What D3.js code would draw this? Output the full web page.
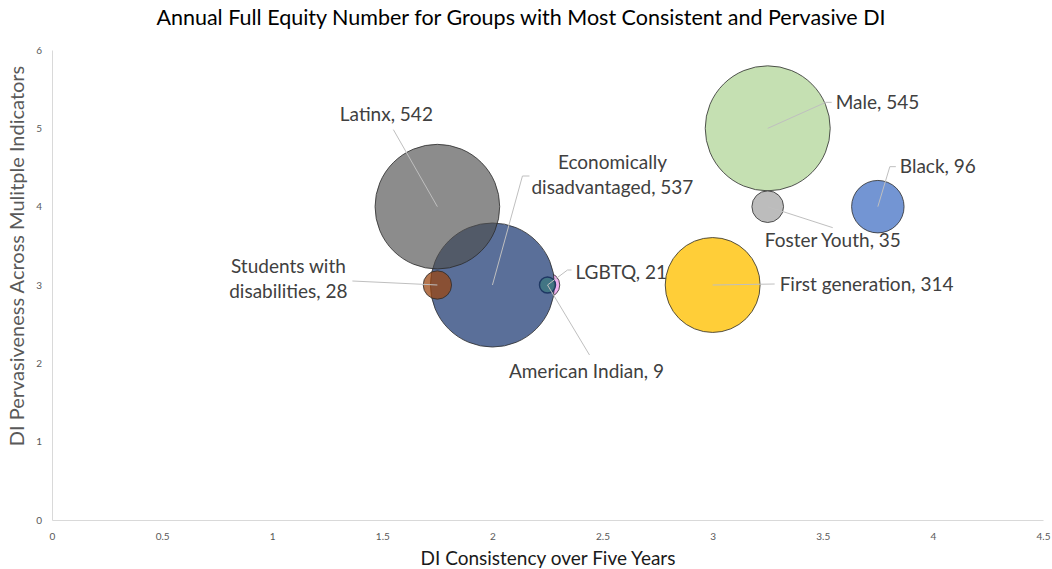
<!DOCTYPE html>
<html>
<head>
<meta charset="utf-8">
<script src="https://cdn.jsdelivr.net/npm/d3@7/dist/d3.min.js"></script>
<style>
  html, body { margin: 0; padding: 0; background: #fff; }
  svg { display: block; font-family: Lato, "Open Sans", sans-serif; }
</style>
</head>
<body>
<svg id="chart" width="1052" height="569"></svg>
<script>
// ---- data ----
const groups   = ["LGBTQ", "Economically disadvantaged", "Latinx", "Students with disabilities", "American Indian", "First generation", "Male", "Foster Youth", "Black"];
const labelLines = [["LGBTQ, 21"], ["Economically", "disadvantaged, 537"], ["Latinx, 542"], ["Students with", "disabilities, 28"], ["American Indian, 9"], ["First generation, 314"], ["Male, 545"], ["Foster Youth, 35"], ["Black, 96"]];
const consistency = [2.25, 2, 1.75, 1.75, 2.25, 3, 3.25, 3.25, 3.75];
const pervasiveness = [3, 3, 4, 3, 3, 3, 5, 4, 4];
const equityNumber = [21, 537, 542, 28, 9, 314, 545, 35, 96];
const fills = ["#f0b0ee", "#5a6f99", "#4e4e4e", "#9a4510", "#2f7a72", "#ffc000", "#a9d18e", "#a5a5a5", "#4472c4"];
const fillOpacity = [1, 1, 0.65, 0.74, 0.55, 0.78, 0.68, 0.75, 0.75];
const xTicks = [0, 0.5, 1, 1.5, 2, 2.5, 3, 3.5, 4, 4.5];
const yTicks = [0, 1, 2, 3, 4, 5, 6];

// label placement (pixel offsets from bubble centre): label anchor, leader path
const labelCfg = [
  { tx: 28,  ty: -13,  anchor: "start",  lead: [[0,0],[20,-15],[24,-15]] },
  { tx: 120, ty: -110, anchor: "middle", lead: [[0,0],[30,-109],[37,-109]] },
  { tx: -51, ty: -92,  anchor: "middle", lead: [[0,0],[-44,-77]] },
  { tx: -149,ty: -6,   anchor: "middle", lead: [[0,0],[-85,-4]] },
  { tx: 39,  ty: 86,   anchor: "middle", lead: [[0,0],[42,70]] },
  { tx: 67,  ty: -1,   anchor: "start",  lead: [[0,0],[62,-1]] },
  { tx: 68,  ty: -26,  anchor: "start",  lead: [[0,0],[58,-26],[64,-26]] },
  { tx: -3,  ty: 34,   anchor: "start",  lead: [[0,0],[65,21]] },
  { tx: 22,  ty: -40,  anchor: "start",  lead: [[0,0],[12,-40],[18,-40]] }
];

const data = groups.map((g, i) => ({
  name: g, lines: labelLines[i], x: consistency[i], y: pervasiveness[i],
  v: equityNumber[i], fill: fills[i], op: fillOpacity[i], cfg: labelCfg[i]
}));

// ---- layout ----
const svg = d3.select("#chart");
const margin = { left: 52, right: 9, top: 50, bottom: 49 };
const W = 1052, H = 569;

const x = d3.scaleLinear().domain([0, 4.5]).range([margin.left, W - margin.right]);
const y = d3.scaleLinear().domain([0, 6]).range([H - margin.bottom, margin.top]);
const r = d3.scaleSqrt().domain([0, 545]).range([0, 62.5]);

// title
svg.append("text")
  .attr("x", 521).attr("y", 25)
  .attr("text-anchor", "middle")
  .attr("font-size", 21.5)
  .attr("fill", "#000")
  .text("Annual Full Equity Number for Groups with Most Consistent and Pervasive DI");

// axes
const xAxis = d3.axisBottom(x).tickValues(xTicks).tickSize(0).tickPadding(13).tickFormat(d3.format(""));
const yAxis = d3.axisLeft(y).tickValues(yTicks).tickSize(0).tickPadding(10).tickFormat(d3.format(""));

const gx = svg.append("g").attr("transform", `translate(0,${y(0)})`).call(xAxis);
const gy = svg.append("g").attr("transform", `translate(${x(0)},0)`).call(yAxis);
[gx, gy].forEach(g => {
  g.select(".domain").attr("stroke", "#d9d9d9").attr("stroke-width", 1);
  g.selectAll("text").attr("fill", "#595959").attr("font-size", 10).attr("font-family", "Lato, sans-serif");
});

// axis titles
svg.append("text")
  .attr("x", 548).attr("y", 565)
  .attr("text-anchor", "middle")
  .attr("font-size", 19)
  .attr("fill", "#1a1a1a")
  .text("DI Consistency over Five Years");

svg.append("text")
  .attr("transform", `translate(24,256) rotate(-90)`)
  .attr("text-anchor", "middle")
  .attr("font-size", 20)
  .attr("fill", "#595959")
  .text("DI Pervasiveness Across Mulitple Indicators");

// bubbles
const bubbles = svg.append("g");
bubbles.selectAll("circle")
  .data(data)
  .join("circle")
  .attr("cx", d => x(d.x))
  .attr("cy", d => y(d.y))
  .attr("r", d => r(d.v))
  .attr("fill", d => d.fill)
  .attr("fill-opacity", d => d.op)
  .attr("stroke", d => d.name === "American Indian" ? "#1f3864" : "#2b2b2b")
  .attr("stroke-width", d => d.name === "American Indian" ? 1.4 : 0.8);

// leader lines
const lineGen = d3.line();
svg.append("g").selectAll("path")
  .data(data)
  .join("path")
  .attr("d", d => lineGen(d.cfg.lead.map(p => [x(d.x) + p[0], y(d.y) + p[1]])))
  .attr("fill", "none")
  .attr("stroke", "#bfbfbf")
  .attr("stroke-width", 1);

// labels
const fs = 19, lh = 25;
const labels = svg.append("g").selectAll("text")
  .data(data)
  .join("text")
  .attr("x", d => x(d.x) + d.cfg.tx)
  .attr("y", d => y(d.y) + d.cfg.ty)
  .attr("text-anchor", d => d.cfg.anchor)
  .attr("font-size", fs)
  .attr("fill", "#404040");

labels.each(function(d) {
  const t = d3.select(this);
  const n = d.lines.length;
  d.lines.forEach((ln, k) => {
    t.append("tspan")
      .attr("x", x(d.x) + d.cfg.tx)
      .attr("dy", k === 0 ? (-(n - 1) / 2 * lh + 0.35 * fs) : lh)
      .text(ln);
  });
});
</script>
</body>
</html>
